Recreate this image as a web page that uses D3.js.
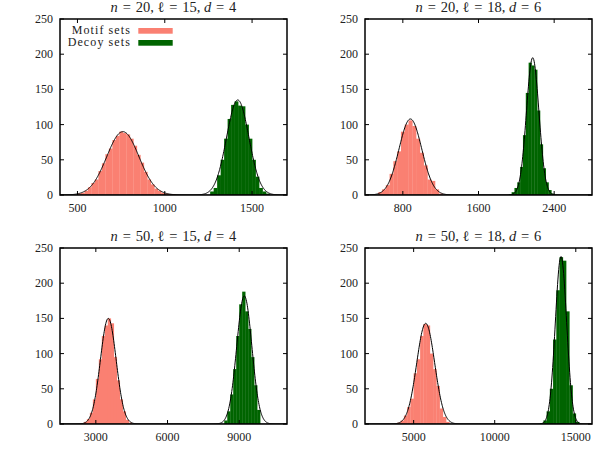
<!DOCTYPE html>
<html>
<head>
<meta charset="utf-8">
<script src="https://cdn.jsdelivr.net/npm/d3@7"></script>
<style>
  body { margin: 0; background: #fff; }
  text { font-family: "Liberation Serif", "Times New Roman", serif; fill: #222; }
</style>
</head>
<body>
<div id="chart"></div>
<script>
// panel titles: [n, l, d]
const params = [[20, 15, 4], [20, 18, 6], [50, 15, 4], [50, 18, 6]];

const xDomains = [[400, 1700], [400, 2800], [1500, 11000], [2000, 16000]];
const xTicks = [[500, 1000, 1500], [800, 1600, 2400], [3000, 6000, 9000], [5000, 10000, 15000]];
const yTicks = [0, 50, 100, 150, 200, 250];

// histogram bins: first bin start, bin width, counts
const motifStart = [500, 540, 2500, 4000];
const motifWidth = [20, 40, 125, 200];
const motifCounts1 = [2, 3, 6, 11, 17, 22, 34, 45, 58, 66, 78, 84, 90, 88, 86, 80, 70, 57, 46, 33, 22, 15, 9, 6, 3, 2, 1, 1];
const motifCounts2 = [4, 8, 14, 30, 48, 62, 90, 100, 106, 98, 80, 60, 42, 22, 20, 8, 2];
const motifCounts3 = [3, 7, 16, 35, 64, 92, 125, 140, 150, 143, 95, 62, 35, 18, 6, 2];
const motifCounts4 = [2, 5, 12, 24, 36, 72, 92, 125, 142, 140, 100, 78, 54, 22, 10, 3];

const decoyStart = [1260, 1920, 8375, 12800];
const decoyWidth = [20, 30, 125, 200];
const decoyCounts1 = [5, 10, 28, 50, 80, 108, 128, 133, 127, 126, 100, 80, 50, 26, 10, 5, 2];
const decoyCounts2 = [1, 4, 10, 18, 40, 85, 145, 188, 184, 178, 120, 72, 38, 18, 7, 2];
const decoyCounts3 = [5, 18, 42, 78, 125, 170, 188, 160, 135, 95, 55, 20];
const decoyCounts4 = [1, 5, 18, 50, 120, 190, 237, 232, 160, 55, 15, 3];

// gaussian fits: [mean, sd, peak]
const motifFit = [[760, 92, 90], [880, 120, 108], [3521, 330, 150], [5744, 553, 143]];
const decoyFit = [[1418, 64, 135], [2173, 66, 195], [9213, 317, 182], [14088, 349, 238]];

const motifCounts = [motifCounts1, motifCounts2, motifCounts3, motifCounts4];
const decoyCounts = [decoyCounts1, decoyCounts2, decoyCounts3, decoyCounts4];

const W = 600, H = 458;
const pw = 227, ph = 176;
const origins = [[60, 19], [365, 19], [60, 248], [365, 248]];

const svg = d3.select("#chart")
  .append("svg")
  .attr("width", W)
  .attr("height", H);

function bins(start, width, counts) {
  return counts.map((c, i) => ({x0: start + i * width, x1: start + (i + 1) * width, n: c}));
}

params.forEach(function(p, k) {
  const g = svg.append("g")
    .attr("transform", `translate(${origins[k][0]}, ${origins[k][1]})`);

  const x = d3.scaleLinear().domain(xDomains[k]).range([0, pw]);
  const y = d3.scaleLinear().domain([0, 250]).range([ph, 0]);

  g.append("clipPath").attr("id", "clip" + k)
    .append("rect").attr("width", pw).attr("height", ph);

  const plot = g.append("g").attr("clip-path", `url(#clip${k})`);

  const series = [
    {data: bins(motifStart[k], motifWidth[k], motifCounts[k]), color: "#fa8072"},
    {data: bins(decoyStart[k], decoyWidth[k], decoyCounts[k]), color: "#006400"}
  ];

  series.forEach(function(s) {
    plot.selectAll(null)
      .data(s.data)
      .join("rect")
      .attr("x", d => x(d.x0))
      .attr("width", d => x(d.x1) - x(d.x0) + 0.3)
      .attr("y", d => y(d.n))
      .attr("height", d => y(0) - y(d.n))
      .attr("fill", s.color);
  });

  const line = d3.line()
    .x(d => x(d[0]))
    .y(d => y(d[1]));

  [motifFit[k], decoyFit[k]].forEach(function(f) {
    const step = (xDomains[k][1] - xDomains[k][0]) / 600;
    const pts = d3.range(xDomains[k][0], xDomains[k][1] + step, step)
      .map(v => [v, f[2] * Math.exp(-((v - f[0]) ** 2) / (2 * f[1] * f[1]))]);
    plot.append("path")
      .datum(pts)
      .attr("d", line)
      .attr("fill", "none")
      .attr("stroke", "#000")
      .attr("stroke-width", 1);
  });

  // ticks on all four sides, inward
  const tl = 4;
  const ticks = g.append("g").attr("stroke", "#000").attr("stroke-width", 1);
  yTicks.forEach(function(t) {
    ticks.append("line").attr("x1", 0).attr("x2", tl).attr("y1", y(t)).attr("y2", y(t));
    ticks.append("line").attr("x1", pw - tl).attr("x2", pw).attr("y1", y(t)).attr("y2", y(t));
  });
  xTicks[k].forEach(function(t) {
    ticks.append("line").attr("x1", x(t)).attr("x2", x(t)).attr("y1", ph).attr("y2", ph - tl);
    ticks.append("line").attr("x1", x(t)).attr("x2", x(t)).attr("y1", 0).attr("y2", tl);
  });

  g.append("rect")
    .attr("width", pw)
    .attr("height", ph)
    .attr("fill", "none")
    .attr("stroke", "#000")
    .attr("stroke-width", 1.5);

  g.selectAll(".ylab")
    .data(yTicks)
    .join("text")
    .attr("x", -7)
    .attr("y", d => y(d) + 4)
    .attr("text-anchor", "end")
    .attr("font-size", "12px")
    .text(d => d);

  g.selectAll(".xlab")
    .data(xTicks[k])
    .join("text")
    .attr("x", d => x(d))
    .attr("y", ph + 17)
    .attr("text-anchor", "middle")
    .attr("font-size", "12px")
    .text(d => d);

  const sp = "\u2004";
  const title = g.append("text")
    .attr("x", pw / 2)
    .attr("y", -7)
    .attr("text-anchor", "middle")
    .attr("font-size", "14.5px");
  title.append("tspan").attr("font-style", "italic").text("n");
  title.append("tspan").text(`${sp}=${sp}${p[0]}, \u2113${sp}=${sp}${p[1]}, `);
  title.append("tspan").attr("font-style", "italic").text("d");
  title.append("tspan").text(`${sp}=${sp}${p[2]}`);

  if (k === 0) {
    const legend = [["Motif sets", "#fa8072"], ["Decoy sets", "#006400"]];
    legend.forEach(function(l, i) {
      g.append("text")
        .attr("x", 71)
        .attr("y", 15.3 + i * 11.7)
        .attr("text-anchor", "end")
        .attr("font-size", "12px")
        .attr("letter-spacing", "1.1px")
        .text(l[0]);
      g.append("rect")
        .attr("x", 78.3)
        .attr("y", 9 + i * 12)
        .attr("width", 34.4)
        .attr("height", 5.7)
        .attr("fill", l[1]);
    });
  }
});
</script>
</body>
</html>
